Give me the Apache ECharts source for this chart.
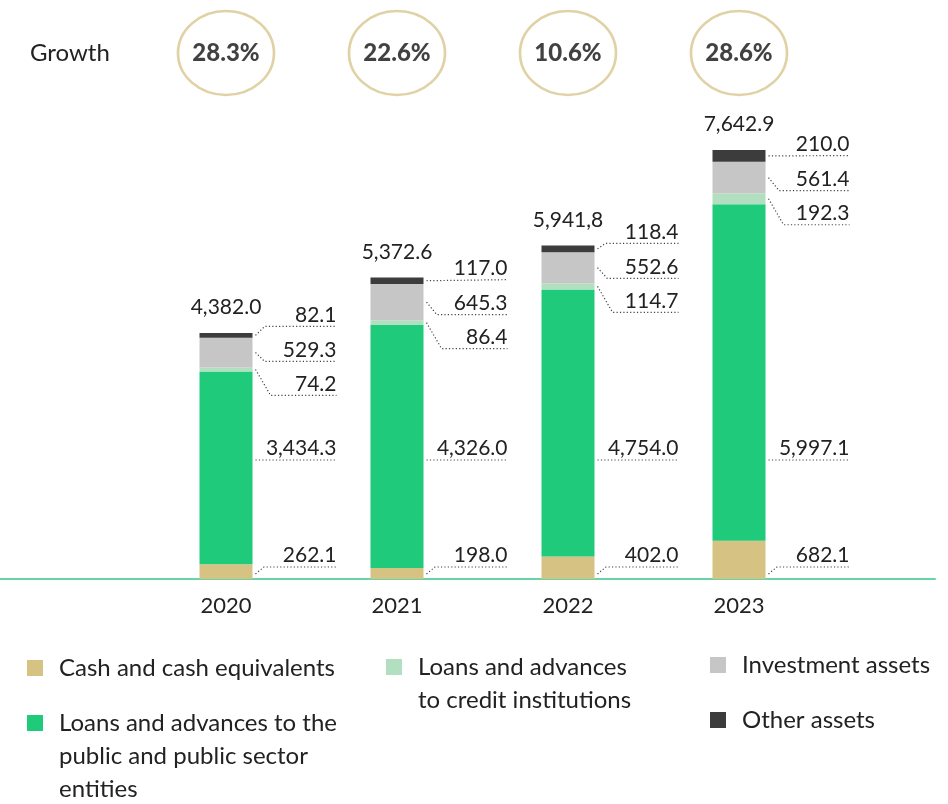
<!DOCTYPE html>
<html>
<head>
<meta charset="utf-8">
<style>
  html, body { margin: 0; padding: 0; background: #fff; }
  #chart { width: 948px; height: 804px; }
</style>
<script src="https://cdn.jsdelivr.net/npm/echarts@6/dist/echarts.min.js"></script>
</head>
<body>
<div id="chart"></div>
<script>
const categories = ['2020', '2021', '2022', '2023'];
const cash = [262.1, 198.0, 402.0, 682.1];
const loansPublic = [3434.3, 4326.0, 4754.0, 5997.1];
const loansCredit = [74.2, 86.4, 114.7, 192.3];
const investment = [529.3, 645.3, 552.6, 561.4];
const other = [82.1, 117.0, 118.4, 210.0];
const totalLabels = ['4,382.0', '5,372.6', '5,941,8', '7,642.9'];
const growth = [28.3, 22.6, 10.6, 28.6];

const FONT = 'Lato';
const TEXT = '#222';
const BAR_W = 53;
const LH = 33;

const segments = [cash, loansPublic, loansCredit, investment, other];

function fmt (v) {
  const parts = v.toFixed(1).split('.');
  return parts[0].replace(/\B(?=(\d{3})+(?!\d))/g, ',') + '.' + parts[1];
}

// legend text is centred on the icon, so pad the front with empty lines
// to keep the icon level with the first line
function legendBox (name, lines, left, iconY) {
  const n = lines.length;
  const pad = new Array(n).join('\n');
  return {
    data: [name],
    left: left,
    top: iconY - (2 * n - 1) * LH / 2,
    padding: 0,
    icon: 'rect',
    itemWidth: 16,
    itemHeight: 16,
    selectedMode: false,
    formatter: pad + lines.join('\n'),
    textStyle: {
      fontFamily: FONT,
      fontSize: 24,
      lineHeight: LH,
      color: TEXT,
      padding: [0, 0, 0, 11]
    }
  };
}

// dotted leader lines + value labels to the right of each bar
function renderLabels (params, api) {
  const i = api.value(0);
  const base = api.coord([i, 0]);
  const cx = base[0];
  const right = cx + BAR_W / 2;
  let cum = 0;
  const b = segments.map(arr => {
    const bot = api.coord([i, cum])[1];
    cum += arr[i];
    const top = api.coord([i, cum])[1];
    return { top: top, bot: bot, mid: (top + bot) / 2 };
  });
  const lineY = [];
  lineY[0] = base[1] - 12;
  lineY[1] = base[1] - 119;
  lineY[2] = b[2].mid + 26;
  lineY[3] = Math.min(b[3].mid + 13, lineY[2] - 34);
  lineY[4] = Math.min(b[4].mid, lineY[3] - 35);
  const startY = [base[1] - 5, lineY[1], b[2].mid, b[3].mid, b[4].mid];

  const children = [];
  const endX = right + 84;
  segments.forEach((arr, k) => {
    const sx = right + 3;
    const sy = startY[k];
    const dy = Math.abs(lineY[k] - sy);
    const pts = [[sx, sy]];
    if (dy >= 3) pts.push([sx + 6 + 0.35 * dy, lineY[k]]);
    pts.push([endX, lineY[k]]);
    children.push({
      type: 'polyline',
      shape: { points: pts },
      style: { stroke: '#444', lineWidth: 1.2, lineDash: [1.2, 2.2], fill: null }
    });
    children.push({
      type: 'text',
      style: {
        text: fmt(arr[i]),
        x: endX,
        y: lineY[k] - 1,
        align: 'right',
        verticalAlign: 'bottom',
        fill: TEXT,
        fontFamily: FONT,
        fontSize: 21
      }
    });
  });
  children.push({
    type: 'text',
    style: {
      text: totalLabels[i],
      x: cx,
      y: b[4].top - 15,
      align: 'center',
      verticalAlign: 'bottom',
      fill: TEXT,
      fontFamily: FONT,
      fontSize: 21
    }
  });
  return { type: 'group', children: children };
}

const chart = echarts.init(document.getElementById('chart'));

const barNames = [
  'Cash and cash equivalents',
  'Loans and advances to the public and public sector entities',
  'Loans and advances to credit institutions',
  'Investment assets',
  'Other assets'
];
const barColors = ['#d6c384', '#1fca7a', '#b3dfc1', '#c6c6c6', '#3c3c3c'];

chart.setOption({
  animation: false,
  grid: [
    { left: 140.5, right: 123.5, top: 130, bottom: 225 },
    { left: 140.5, right: 123.5, top: 10, height: 86 },
    { left: 0, right: 13, top: 130, bottom: 225 }
  ],
  xAxis: [
    {
      type: 'category',
      gridIndex: 0,
      data: categories,
      axisLine: { show: false },
      axisTick: { show: false },
      axisLabel: { fontFamily: FONT, fontSize: 22, color: TEXT, margin: 16 }
    },
    { type: 'category', gridIndex: 1, data: categories, show: false },
    {
      type: 'value',
      gridIndex: 2,
      axisLine: { show: true, lineStyle: { color: '#68d6a4', width: 2 } },
      axisTick: { show: false },
      axisLabel: { show: false },
      splitLine: { show: false }
    }
  ],
  yAxis: [
    { type: 'value', gridIndex: 0, min: 0, max: 8000, show: false },
    {
      type: 'category',
      gridIndex: 1,
      data: ['Growth'],
      axisLine: { show: false },
      axisTick: { show: false },
      axisLabel: { align: 'left', margin: 110.5, fontFamily: FONT, fontSize: 24, color: TEXT }
    },
    { type: 'value', gridIndex: 2, show: false }
  ],
  legend: [
    legendBox(barNames[0], ['Cash and cash equivalents'], 27, 668),
    legendBox(barNames[1], ['Loans and advances to the', 'public and public sector', 'entities'], 27, 723),
    legendBox(barNames[2], ['Loans and advances', 'to credit institutions'], 386, 667),
    legendBox(barNames[3], ['Investment assets'], 710, 665),
    legendBox(barNames[4], ['Other assets'], 710, 720)
  ],
  series: segments.map((arr, k) => ({
    name: barNames[k],
    type: 'bar',
    stack: 'assets',
    barWidth: BAR_W,
    xAxisIndex: 0,
    yAxisIndex: 0,
    itemStyle: { color: barColors[k] },
    data: arr
  })).concat([
    {
      type: 'custom',
      xAxisIndex: 0,
      yAxisIndex: 0,
      silent: true,
      z: 5,
      renderItem: renderLabels,
      encode: { x: 0, y: 1 },
      data: categories.map((c, i) => [i, segments.reduce((s, a) => s + a[i], 0)])
    },
    {
      type: 'scatter',
      xAxisIndex: 1,
      yAxisIndex: 1,
      silent: true,
      symbol: 'circle',
      symbolSize: [96, 84],
      itemStyle: { color: '#fff', borderColor: '#d8c78f', borderWidth: 2.5 },
      label: {
        show: true,
        position: 'inside',
        formatter: p => p.value[2].toFixed(1) + '%',
        fontFamily: FONT,
        fontSize: 24,
        fontWeight: 900,
        color: '#111'
      },
      data: growth.map((g, i) => [i, 0, g])
    }
  ])
});
</script>
</body>
</html>
